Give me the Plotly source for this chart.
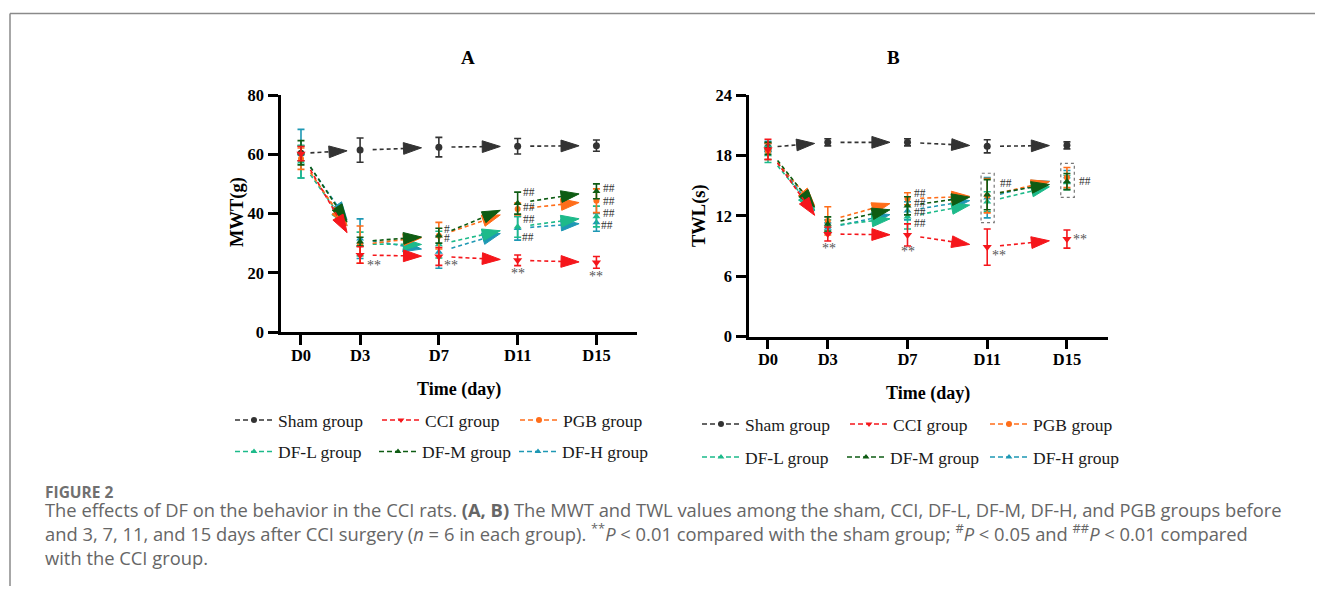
import plotly.graph_objects as go

# page body has an 8px margin: figure drawn 8px in from the window edge
OFF = 8
W, H = 1307, 578

# ---------------- data ----------------
days = [0, 3, 7, 11, 15]
tick_labels = ["D0", "D3", "D7", "D11", "D15"]
group_names = ["Sham group", "CCI group", "PGB group", "DF-L group", "DF-M group", "DF-H group"]

# Panel A: MWT (g)
mwt_sham = [60.3, 61.4, 62.4, 62.7, 62.9]
mwt_sham_err = [2.5, 4.1, 3.3, 2.6, 1.9]
mwt_cci = [60.2, 26.0, 25.5, 24.2, 23.5]
mwt_cci_err = [2.4, 2.8, 3.0, 1.8, 2.0]
mwt_pgb = [58.5, 29.5, 32.5, 41.5, 44.3]
mwt_pgb_err = [3.6, 6.3, 4.5, 2.0, 4.0]
mwt_dfl = [57.5, 29.7, 29.5, 35.5, 39.0]
mwt_dfl_err = [5.5, 4.0, 4.5, 3.5, 3.5]
mwt_dfm = [60.5, 30.5, 32.5, 43.5, 47.5]
mwt_dfm_err = [4.1, 1.5, 2.5, 3.7, 2.5]
mwt_dfh = [60.2, 31.5, 27.0, 35.0, 37.0]
mwt_dfh_err = [8.2, 6.7, 5.5, 4.0, 3.0]

# Panel B: TWL (s)
twl_sham = [18.8, 19.3, 19.3, 18.9, 19.0]
twl_sham_err = [0.4, 0.35, 0.35, 0.65, 0.35]
twl_cci = [18.6, 10.2, 10.1, 8.9, 9.7]
twl_cci_err = [1.0, 0.7, 1.1, 1.8, 0.9]
twl_pgb = [18.4, 11.5, 13.7, 14.0, 15.8]
twl_pgb_err = [0.8, 1.4, 0.6, 1.7, 1.0]
twl_dfl = [18.1, 11.0, 11.9, 13.4, 15.3]
twl_dfl_err = [0.8, 0.6, 1.2, 1.0, 0.7]
twl_dfm = [18.7, 11.2, 13.0, 14.1, 15.4]
twl_dfm_err = [0.6, 0.7, 0.9, 1.5, 0.8]
twl_dfh = [18.5, 10.8, 12.5, 13.8, 15.9]
twl_dfh_err = [0.9, 0.5, 0.9, 2.0, 0.6]

# significance labels (text, day, value)
sig_a = [("**", 3.69, 22.6), ("**", 7.6, 22.6), ("**", 11.03, 19.6), ("**", 14.97, 18.9),
         ("#", 7.39, 34.8), ("#", 7.39, 31.6),
         ("##", 11.6, 47.3), ("##", 11.6, 42.1), ("##", 11.6, 38.0), ("##", 11.54, 32.0),
         ("##", 15.65, 48.5), ("##", 15.65, 44.3), ("##", 15.65, 40.1), ("##", 15.55, 36.0)]
sig_b = [("**", 3.04, 8.78), ("**", 7.04, 8.45), ("**", 11.6, 8.11), ("**", 15.65, 9.67),
         ("##", 7.64, 14.3), ("##", 7.64, 13.3), ("##", 7.64, 12.4), ("##", 7.64, 11.26),
         ("##", 11.96, 15.3), ("##", 15.92, 15.5)]
# dotted highlight boxes in panel B (day0, day1, val0, val1)
boxes_b = [(10.69, 11.35, 11.32, 16.23), (14.69, 15.37, 13.84, 17.22)]

# ---------------- style ----------------
colors = ["#333333", "#F5161B", "#FF6E1A", "#1DBA8A", "#0E5C13", "#1E98B4"]
symbols = ["circle", "triangle-down", "circle", "triangle-up", "triangle-up", "triangle-up"]
msizes = [7, 8, 6, 7, 7, 7]
SERIF = "Liberation Serif, Times New Roman, serif"
DASH = "4px,3px"
F0, F1 = 0.16, 0.78   # fraction of interval where arrows start / tip


def px_x(p):
    return (p - OFF) / W


def px_y(p):
    return 1 - (p - OFF) / H


fig = go.Figure()

panels = [
    dict(xa="x", ya="y",
         series=[(mwt_sham, mwt_sham_err), (mwt_cci, mwt_cci_err), (mwt_pgb, mwt_pgb_err),
                 (mwt_dfl, mwt_dfl_err), (mwt_dfm, mwt_dfm_err), (mwt_dfh, mwt_dfh_err)]),
    dict(xa="x2", ya="y2",
         series=[(twl_sham, twl_sham_err), (twl_cci, twl_cci_err), (twl_pgb, twl_pgb_err),
                 (twl_dfl, twl_dfl_err), (twl_dfm, twl_dfm_err), (twl_dfh, twl_dfh_err)]),
]

draw_order = [0, 5, 3, 2, 4, 1]
for p in panels:
    # dashed arrow segments
    for gi in draw_order:
        vals, _ = p["series"][gi]
        xs, ys, ss = [], [], []
        for i in range(len(days) - 1):
            d0, d1 = days[i], days[i + 1]
            v0, v1 = vals[i], vals[i + 1]
            xs += [d0 + F0 * (d1 - d0), d0 + F1 * (d1 - d0), None]
            ys += [v0 + F0 * (v1 - v0), v0 + F1 * (v1 - v0), None]
            ss += [0, 19, 0]
        fig.add_trace(go.Scatter(
            x=xs, y=ys, xaxis=p["xa"], yaxis=p["ya"], mode="lines+markers",
            line=dict(color=colors[gi], width=1.6, dash=DASH),
            marker=dict(symbol="arrow", size=ss, color=colors[gi], angleref="previous",
                        opacity=1, line=dict(width=1, color=colors[gi])),
            showlegend=False, hoverinfo="skip"))
    # points with error bars
    for gi in draw_order:
        vals, errs = p["series"][gi]
        fig.add_trace(go.Scatter(
            x=days, y=vals, xaxis=p["xa"], yaxis=p["ya"], mode="markers",
            marker=dict(symbol=symbols[gi], size=msizes[gi], color=colors[gi]),
            error_y=dict(type="data", array=errs, visible=True, color=colors[gi],
                         thickness=1.6, width=3.5),
            showlegend=False))

# legends: one per entry for exact placement
leg_pos_a = [(235, 420), (382, 420), (520, 420), (235, 451.5), (379, 451.5), (519, 451.5)]
leg_pos_b = [(702, 424), (850, 424), (990, 424), (702, 457), (847, 457), (990, 457)]
legend_layouts = {}
k = 0
for positions in (leg_pos_a, leg_pos_b):
    for gi, (lx, ly) in enumerate(positions):
        k += 1
        lname = "legend" if k == 1 else f"legend{k}"
        fig.add_trace(go.Scatter(
            x=[None], y=[None], xaxis="x", yaxis="y", mode="lines+markers", name=group_names[gi],
            line=dict(color=colors[gi], width=1.5, dash="5px,3px"),
            marker=dict(symbol=symbols[gi], size=6, color=colors[gi]),
            showlegend=True, legend=lname))
        legend_layouts[lname] = dict(
            x=px_x(lx - 5), y=px_y(ly), xanchor="left", yanchor="middle",
            bgcolor="rgba(0,0,0,0)", borderwidth=0, itemwidth=38,
            font=dict(family=SERIF, size=17.5, color="#1a1a1a"))

axis_common = dict(showline=True, linecolor="black", linewidth=2.5, ticks="outside",
                   ticklen=10, tickwidth=2.5, tickcolor="black", showgrid=False,
                   zeroline=False,
                   tickfont=dict(family=SERIF, size=16.5, color="black", weight="bold"))

fig.update_layout(
    width=W, height=H, margin=dict(l=0, r=0, t=0, b=0, autoexpand=False),
    paper_bgcolor="white", plot_bgcolor="white",
    xaxis=dict(domain=[px_x(281), px_x(637)], range=[-1.015, 17.06], tickvals=days,
               ticktext=tick_labels, anchor="y", ticklabelstandoff=-4, **axis_common),
    yaxis=dict(domain=[px_y(332), px_y(95)], range=[0, 80], tickvals=[0, 20, 40, 60, 80],
               anchor="x", ticklabelstandoff=1, **axis_common),
    xaxis2=dict(domain=[px_x(749), px_x(1108)], range=[-0.953, 17.06], tickvals=days,
                ticktext=tick_labels, anchor="y2", ticklabelstandoff=-4, **axis_common),
    yaxis2=dict(domain=[px_y(336.7), px_y(95)], range=[0, 24], tickvals=[0, 6, 12, 18, 24],
                anchor="x2", ticklabelstandoff=1, **axis_common),
    **legend_layouts,
)

ann = []


def text_ann(x, y, text, size, color="black", bold=False, angle=0, family=SERIF,
             xanchor="center", xref="paper", yref="paper", yanchor="middle", align="center"):
    ann.append(dict(x=x, y=y, xref=xref, yref=yref, text=text, showarrow=False,
                    xanchor=xanchor, yanchor=yanchor, textangle=angle, align=align,
                    font=dict(family=family, size=size, color=color,
                              weight="bold" if bold else "normal")))


# panel titles and axis titles
text_ann(px_x(468), px_y(58), "A", 19, bold=True)
text_ann(px_x(893), px_y(58), "B", 19, bold=True)
text_ann(px_x(237), px_y(212), "MWT(g)", 18.5, bold=True, angle=-90)
text_ann(px_x(699), px_y(215), "TWL(s)", 18.5, bold=True, angle=-90)
text_ann(px_x(459), px_y(389), "Time (day)", 18, bold=True)
text_ann(px_x(928), px_y(393), "Time (day)", 18, bold=True)

# significance marks
for txt, dx, vy in sig_a:
    star = txt.startswith("*")
    text_ann(dx, vy, txt, 14 if star else 11.5, color="#555555" if star else "#333333",
             xref="x", yref="y")
for txt, dx, vy in sig_b:
    star = txt.startswith("*")
    text_ann(dx, vy, txt, 14 if star else 11.5, color="#555555" if star else "#333333",
             xref="x2", yref="y2")

# caption
CAP = "Open Sans, Noto Sans, sans-serif"
CAPC = "#666666"
text_ann(px_x(43), px_y(491.5), "<b>FIGURE 2</b>", 15.5, color="#707070", family=CAP, xanchor="left")
cap_lines = [
    "The effects of DF on the behavior in the CCI rats. <b>(A, B)</b> The MWT and TWL values among the sham, CCI, DF-L, DF-M, DF-H, and PGB groups before",
    "and 3, 7, 11, and 15 days after CCI surgery (<i>n</i> = 6 in each group). <sup>**</sup><i>P</i> &lt; 0.01 compared with the sham group; <sup>#</sup><i>P</i> &lt; 0.05 and <sup>##</sup><i>P</i> &lt; 0.01 compared",
    "with the CCI group.",
]
text_ann(px_x(43), px_y(533), "<br>".join(cap_lines), 18.35, color=CAPC, family=CAP,
         xanchor="left", align="left")

shapes = []
# frame lines
shapes.append(dict(type="line", xref="paper", yref="paper", x0=px_x(10), x1=1.01, y0=px_y(13.5),
                   y1=px_y(13.5), line=dict(color="#8a8a8a", width=1.5)))
shapes.append(dict(type="line", xref="paper", yref="paper", x0=px_x(10), x1=px_x(10),
                   y0=px_y(13.5), y1=-0.05, line=dict(color="#8a8a8a", width=1.5)))
for d0, d1, v0, v1 in boxes_b:
    shapes.append(dict(type="rect", xref="x2", yref="y2", x0=d0, x1=d1, y0=v0, y1=v1,
                       line=dict(color="#777777", width=1.2, dash="dot")))

fig.update_layout(annotations=ann, shapes=shapes)
fig.write_html("out.html")
